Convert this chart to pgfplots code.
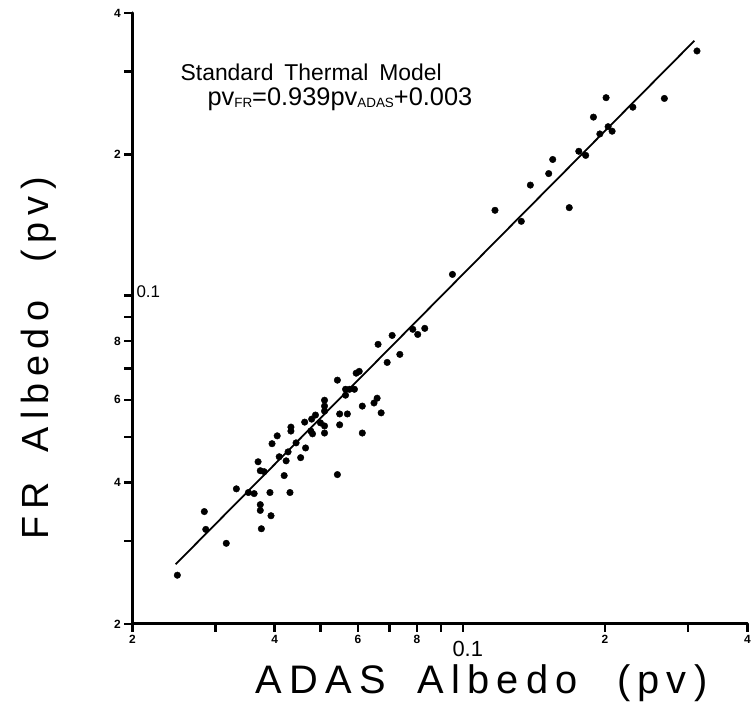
\documentclass[border=0pt]{standalone}
\usepackage{fontspec}
\setmainfont{Liberation Sans}
\setsansfont{Liberation Sans}
\newfontfamily\wide[LetterSpace=18]{Liberation Sans}
\usepackage{pgfplots}
\pgfplotsset{compat=1.18}
\begin{document}
\begin{tikzpicture}
\begin{axis}[
  scale only axis, width=618pt, height=614pt,
  xmode=log, ymode=log,
  xmin=0.02, xmax=0.4, ymin=0.02, ymax=0.4,
  axis x line*=bottom, axis y line*=left,
  axis line style={line width=3pt},
  tick align=outside,
  major tick length=8pt,
  every tick/.append style={line width=2.4pt, black},
  xtick={0.02,0.03,0.04,0.05,0.06,0.07,0.08,0.09,0.1,0.2,0.3,0.4},
  xticklabels={2,,4,,6,,8,,,2,,4},
  ytick={0.02,0.03,0.04,0.05,0.06,0.07,0.08,0.09,0.1,0.2,0.3,0.4},
  yticklabels={2,,4,,6,,8,,,2,,4},
  minor xtick={}, minor ytick={},
  /pgf/number format/assume math mode=true,
  ticklabel style={font=\bfseries\fontsize{12}{12}\selectfont},
  xlabel={{\wide ADAS}\hspace{0.8em}{\wide Albedo}\hspace{1.0em}{\wide (pv)}},
  xlabel style={font=\fontsize{40}{42}\selectfont, at={(rel axis cs:0.568,-0.097)}, anchor=center},
  ylabel={{\wide FR}\hspace{0.8em}{\wide Albedo}\hspace{1.0em}{\wide (pv)}},
  ylabel style={font=\fontsize{38}{40}\selectfont, at={(rel axis cs:-0.152,0.435)}, anchor=center},
  clip=false,
]
\addplot[black, line width=1.8pt] coordinates {(0.0247,0.0268) (0.1,0.111) (0.309,0.349)};
\addplot[only marks, mark=*, mark size=3.3pt, black] coordinates {
(0.0249,0.0254) (0.0286,0.0318) (0.0284,0.0347) (0.0316,0.0297)
(0.0332,0.0388) (0.0352,0.0381) (0.0362,0.0379) (0.0391,0.0381)
(0.0431,0.0381) (0.0373,0.0359) (0.0373,0.0349) (0.0393,0.0340)
(0.0375,0.0319) (0.0369,0.0443) (0.0373,0.0424) (0.0380,0.0422)
(0.0419,0.0414) (0.0423,0.0445) (0.0454,0.0452) (0.0543,0.0661)
(0.0565,0.0632) (0.0576,0.0632) (0.0590,0.0632) (0.0659,0.0605)
(0.0649,0.0591) (0.0613,0.0582) (0.0672,0.0563) (0.0510,0.0599)
(0.0510,0.0582) (0.0510,0.0568) (0.0488,0.0557) (0.0479,0.0546)
(0.0463,0.0538) (0.0433,0.0525) (0.0433,0.0515) (0.0405,0.0503)
(0.0395,0.0484) (0.0444,0.0486) (0.0465,0.0474) (0.0427,0.0465)
(0.0409,0.0454) (0.0477,0.0515) (0.0481,0.0508) (0.0500,0.0536)
(0.0510,0.0528) (0.0510,0.0510) (0.0549,0.0560) (0.0570,0.0560)
(0.0549,0.0531) (0.0613,0.0510) (0.0543,0.0416) (0.0831,0.0852)
(0.0803,0.0827) (0.0784,0.0848) (0.0709,0.0823) (0.0662,0.0788)
(0.0736,0.0750) (0.0692,0.0721) (0.0604,0.0690) (0.0595,0.0684)
(0.0565,0.0614) (0.155,0.195) (0.152,0.182) (0.139,0.172)
(0.117,0.152) (0.168,0.154) (0.133,0.144) (0.0951,0.111)
(0.176,0.203) (0.182,0.199) (0.201,0.264) (0.189,0.240)
(0.229,0.252) (0.203,0.229) (0.207,0.224) (0.195,0.221)
(0.267,0.263) (0.313,0.332)
};
\coordinate (O) at (rel axis cs:0,0);
\coordinate (X) at (rel axis cs:1,0);
\coordinate (Y) at (rel axis cs:0,1);
\end{axis}
\draw[line width=3pt, line cap=round] (Y) -- (O) -- (X);
\path (O) ++(-133pt,-82pt) rectangle ++(754pt,709pt);
\node[anchor=west, font=\fontsize{23}{24}\selectfont] at ([shift={(45pt,554pt)}]O) {Standard\hspace{0.2em} Thermal\hspace{0.2em} Model};
\node[anchor=west, font=\fontsize{25.5}{26}\selectfont] at ([shift={(72pt,527pt)}]O) {pv\raisebox{-0.05em}{\fontsize{13.5}{14}\selectfont FR}=0.939pv\raisebox{-0.05em}{\fontsize{13.5}{14}\selectfont ADAS}+0.003};
\node[font=\fontsize{22}{22}\selectfont] at ([shift={(337pt,-25pt)}]O) {0.1};
\node[font=\fontsize{17}{17}\selectfont] at ([shift={(16pt,334pt)}]O) {0.1};
\end{tikzpicture}
\end{document}
